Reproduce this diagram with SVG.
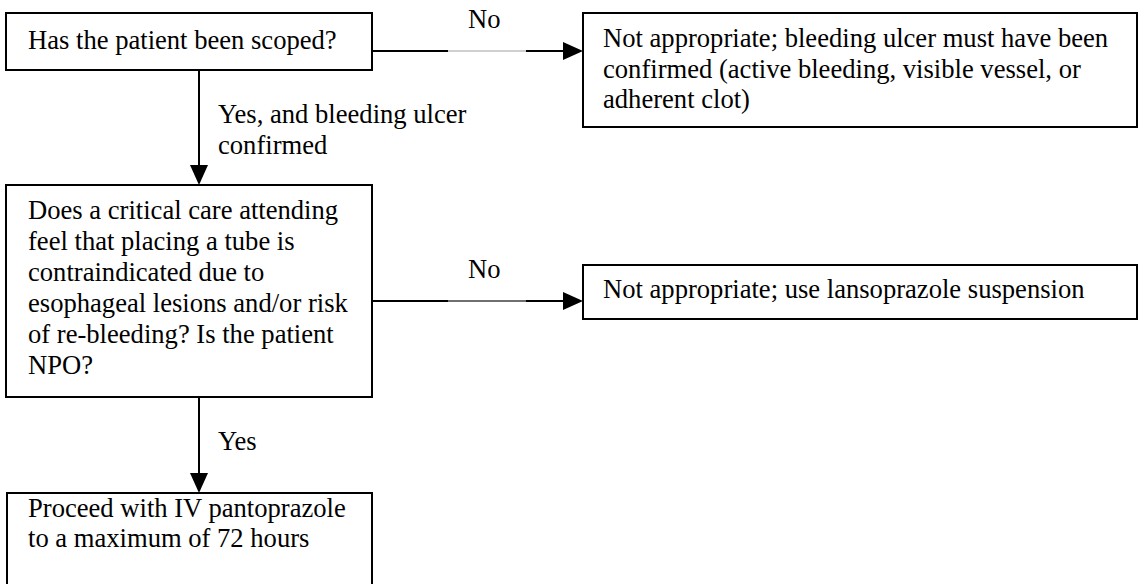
<svg xmlns="http://www.w3.org/2000/svg" width="1138" height="584" viewBox="0 0 1138 584">
  <style>
    .box { fill: #ffffff; stroke: #000000; stroke-width: 2; }
    .t { font-family: "Liberation Serif", "Times New Roman", serif; font-size: 26.6px; fill: #000000; }
    .ln { fill: none; stroke: #000000; stroke-width: 2; }
    .gap { fill: none; stroke: #a0a0a0; stroke-width: 1; }
    .gap2 { fill: none; stroke: #404040; stroke-width: 1.3; }
  </style>
  <defs>
    <marker id="arrow" markerUnits="userSpaceOnUse" markerWidth="20" markerHeight="18" refX="10" refY="9" orient="auto">
      <path d="M0,0 L20,9 L0,18 z" fill="#000000"/>
    </marker>
  </defs>
  <rect width="1138" height="584" fill="#ffffff"/>

  <g id="connectors">
    <path class="ln" d="M372,51 H448"/>
    <path class="gap" d="M448,51 H526"/>
    <path class="ln" d="M526,51 H573" marker-end="url(#arrow)"/>
    <text class="t" x="468" y="28">No</text>

    <path class="ln" d="M199,70 V175" marker-end="url(#arrow)"/>
    <text class="t" x="218" y="123">Yes, and bleeding ulcer</text>
    <text class="t" x="218" y="154">confirmed</text>

    <path class="ln" d="M372,301 H448"/>
    <path class="gap2" d="M448,301 H526"/>
    <path class="ln" d="M526,301 H573" marker-end="url(#arrow)"/>
    <text class="t" x="468" y="278">No</text>

    <path class="ln" d="M199,397 V483" marker-end="url(#arrow)"/>
    <text class="t" x="218" y="450">Yes</text>
  </g>

  <g id="node-scoped">
    <rect class="box" x="6" y="13" width="366" height="57"/>
    <text class="t" x="28" y="49">Has the patient been scoped?</text>
  </g>

  <g id="node-not-appropriate-1">
    <rect class="box" x="583" y="13" width="554" height="114"/>
    <text class="t" x="603" y="47">Not appropriate; bleeding ulcer must have been</text>
    <text class="t" x="603" y="78">confirmed (active bleeding, visible vessel, or</text>
    <text class="t" x="603" y="108">adherent clot)</text>
  </g>

  <g id="node-critical-care">
    <rect class="box" x="6" y="185" width="366" height="212"/>
    <text class="t" x="28" y="219">Does a critical care attending</text>
    <text class="t" x="28" y="250">feel that placing a tube is</text>
    <text class="t" x="28" y="281">contraindicated due to</text>
    <text class="t" x="28" y="312">esophageal lesions and/or risk</text>
    <text class="t" x="28" y="343">of re-bleeding? Is the patient</text>
    <text class="t" x="28" y="374">NPO?</text>
  </g>

  <g id="node-not-appropriate-2">
    <rect class="box" x="583" y="265" width="554" height="54"/>
    <text class="t" x="603" y="298">Not appropriate; use lansoprazole suspension</text>
  </g>

  <g id="node-proceed">
    <rect class="box" x="7" y="493" width="365" height="100"/>
    <text class="t" x="28" y="517">Proceed with IV pantoprazole</text>
    <text class="t" x="28" y="547">to a maximum of 72 hours</text>
  </g>
</svg>
